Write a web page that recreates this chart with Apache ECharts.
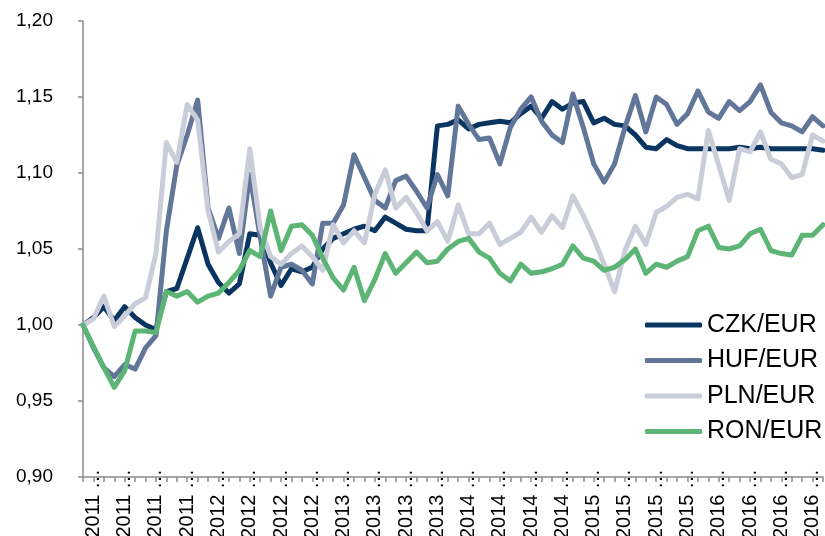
<!DOCTYPE html>
<html>
<head>
<meta charset="utf-8">
<script src="https://cdn.jsdelivr.net/npm/echarts@6/dist/echarts.min.js"></script>
<style>
html,body{margin:0;padding:0;background:#fff;}
#chart{width:825px;height:536px;}
</style>
</head>
<body>
<div id="chart"></div>
<script>
// Monthly index, Jan 2011 = 1.00
const years = [2011, 2012, 2013, 2014, 2015, 2016];
const categories = [];
years.forEach(y => { for (let m = 1; m <= 12; m++) categories.push(y + ' …'); });

const czk = [1.000,1.005,1.012,1.003,1.012,1.005,1.000,0.997,1.022,1.024,1.044,1.064,
             1.040,1.028,1.021,1.027,1.060,1.059,1.041,1.026,1.037,1.035,1.038,1.050,
             1.057,1.060,1.063,1.065,1.062,1.071,1.067,1.063,1.062,1.062,1.131,1.132,
             1.135,1.129,1.132,1.133,1.134,1.133,1.139,1.144,1.136,1.147,1.142,1.146,
             1.147,1.133,1.136,1.132,1.131,1.125,1.117,1.116,1.122,1.118,1.116,1.116,
             1.116,1.116,1.116,1.117,1.116,1.117,1.116,1.116,1.116,1.116,1.116,1.115];
const huf = [1.000,0.985,0.972,0.966,0.974,0.971,0.985,0.993,1.062,1.105,1.125,1.148,
             1.077,1.057,1.077,1.047,1.099,1.058,1.019,1.038,1.040,1.036,1.027,1.067,
             1.067,1.079,1.112,1.097,1.082,1.077,1.095,1.098,1.088,1.077,1.099,1.085,
             1.144,1.132,1.122,1.123,1.106,1.130,1.142,1.150,1.134,1.125,1.120,1.152,
             1.130,1.106,1.094,1.106,1.130,1.151,1.127,1.150,1.145,1.132,1.139,1.154,
             1.140,1.136,1.147,1.141,1.147,1.158,1.140,1.133,1.131,1.127,1.137,1.131];
const pln = [1.000,1.004,1.019,0.999,1.006,1.014,1.018,1.047,1.120,1.107,1.145,1.135,
             1.075,1.048,1.055,1.060,1.116,1.064,1.045,1.040,1.047,1.052,1.045,1.036,
             1.066,1.054,1.062,1.054,1.086,1.102,1.077,1.084,1.074,1.062,1.068,1.055,
             1.079,1.060,1.060,1.067,1.053,1.057,1.061,1.071,1.061,1.072,1.064,1.085,
             1.072,1.057,1.040,1.022,1.049,1.065,1.053,1.074,1.078,1.084,1.086,1.083,
             1.128,1.105,1.082,1.116,1.114,1.127,1.109,1.106,1.097,1.099,1.125,1.121];
const ron = [1.000,0.986,0.972,0.959,0.970,0.996,0.996,0.995,1.022,1.019,1.022,1.015,
             1.019,1.021,1.028,1.036,1.049,1.045,1.075,1.049,1.065,1.066,1.059,1.044,
             1.031,1.023,1.038,1.016,1.030,1.047,1.034,1.041,1.048,1.041,1.042,1.050,
             1.055,1.057,1.048,1.044,1.034,1.029,1.040,1.034,1.035,1.037,1.040,1.052,
             1.044,1.042,1.036,1.038,1.043,1.050,1.034,1.040,1.038,1.042,1.045,1.062,
             1.065,1.051,1.050,1.052,1.060,1.063,1.049,1.047,1.046,1.059,1.059,1.066];

const seriesNames = ['CZK/EUR', 'HUF/EUR', 'PLN/EUR', 'RON/EUR'];
const seriesData = [czk, huf, pln, ron];
const seriesColors = ['#0b3561', '#62769a', '#c9cdd9', '#5db575'];

const font = 'Liberation Sans, Arial, sans-serif';
const chart = echarts.init(document.getElementById('chart'), null, {renderer: 'canvas'});
chart.setOption({
  animation: false,
  backgroundColor: '#ffffff',
  grid: {left: 83, right: 2, top: 21, bottom: 59, containLabel: false, outerBoundsMode: 'none'},
  legend: {
    orient: 'vertical',
    left: 645,
    top: 312,
    padding: 0,
    icon: 'roundRect',
    itemWidth: 57,
    itemHeight: 5,
    itemGap: 9.5,
    textStyle: {fontFamily: font, fontSize: 25, lineHeight: 26, color: '#000'},
    data: seriesNames
  },
  xAxis: {
    type: 'category',
    data: categories,
    boundaryGap: false,
    axisLine: {lineStyle: {color: '#8c8c8c', width: 1.5}},
    axisTick: {show: true, interval: 0, length: 5, lineStyle: {color: '#8c8c8c', width: 1.5}},
    axisLabel: {
      interval: (idx) => idx % 3 === 1,
      rotate: 90,
      margin: -8,
      fontFamily: font,
      fontSize: 20,
      color: '#000'
    },
    splitLine: {show: false}
  },
  yAxis: {
    type: 'value',
    min: 0.9,
    max: 1.2,
    interval: 0.05,
    axisLine: {show: true, lineStyle: {color: '#8c8c8c', width: 1.5}},
    axisTick: {show: true, length: 5, lineStyle: {color: '#8c8c8c', width: 1.5}},
    axisLabel: {
      margin: 30,
      fontFamily: font,
      fontSize: 19,
      color: '#000',
      formatter: v => v.toFixed(2).replace('.', ',')
    },
    splitLine: {show: false}
  },
  series: seriesNames.map((n, k) => ({
    name: n,
    type: 'line',
    data: seriesData[k],
    symbol: 'none',
    smooth: false,
    lineStyle: {color: seriesColors[k], width: 5, join: 'round', cap: 'round'},
    itemStyle: {color: seriesColors[k]},
    z: 2 + k
  }))
});
</script>
</body>
</html>
